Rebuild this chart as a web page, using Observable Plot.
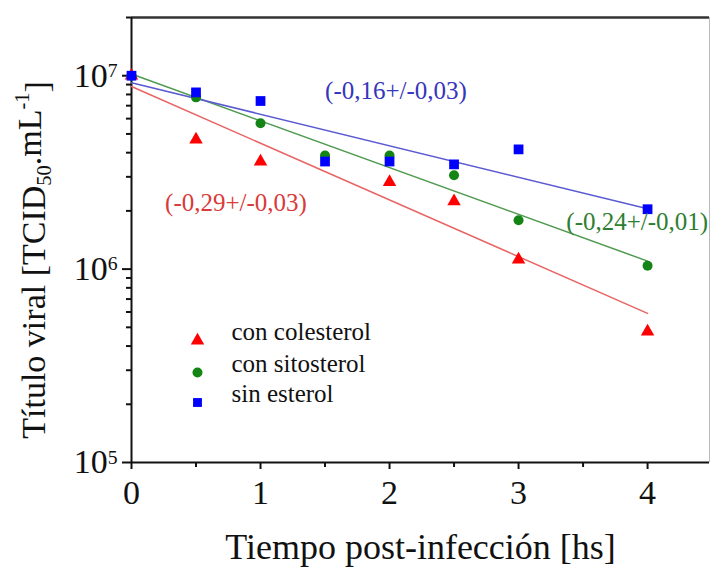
<!DOCTYPE html>
<html>
<head>
<meta charset="utf-8">
<script src="https://cdn.jsdelivr.net/npm/d3@7"></script>
<script src="https://cdn.jsdelivr.net/npm/@observablehq/plot@0.6"></script>
<style>
  html, body { margin: 0; padding: 0; background: white; }
  #chart { width: 710px; height: 568px; }
</style>
</head>
<body>
<div id="chart"></div>
<script>
// ---- data ----
const timeHs = [0, 0.5, 1, 1.5, 2, 2.5, 3, 4];
const conColesterol = [1.0e7, 4.68e6, 3.6e6, null, 2.82e6, 2.24e6, 1.12e6, 4.75e5];
const conColesterolTimes = [0, 0.5, 1, 2, 2.5, 3, 4];
const conSitosterol = [1.0e7, 7.73e6, 5.68e6, 3.87e6, 3.87e6, 3.06e6, 1.79e6, 1.04e6];
const sinEsterol = [1.0e7, 8.2e6, 7.4e6, 3.6e6, 3.6e6, 3.48e6, 4.16e6, 2.04e6];

// fitted lines (endpoints)
const fitTimes = [0, 4];
const fitColesterol = [8.8e6, 5.9e5];
const fitSitosterol = [1.02e7, 1.1e6];
const fitSinEsterol = [9.2e6, 2.05e6];

// slope annotations
const annoText = ["(-0,16+/-0,03)", "(-0,29+/-0,03)", "(-0,24+/-0,01)"];
const annoX = [2.05, 0.81, 3.92];
const annoY = [8.3e6, 2.19e6, 1.75e6];
const annoColor = ["#3535bd", "#d93a3a", "#2e7d32"];

const legendLabels = ["con colesterol", "con sitosterol", "sin esterol"];

const xDomain = [0, 4.48];
const yDomain = [1e5, 2e7];
const xMajor = [0, 1, 2, 3, 4];
const xMinor = [0.5, 1.5, 2.5, 3.5];
const yMajor = [1e5, 1e6, 1e7];
const yMinor = [2e5,3e5,4e5,5e5,6e5,7e5,8e5,9e5,2e6,3e6,4e6,5e6,6e6,7e6,8e6,9e6,2e7];

// ---- build tables ----
const red = conColesterolTimes.map((t) => ({t, v: conColesterol[timeHs.indexOf(t)]}));
const green = timeHs.map((t, i) => ({t, v: conSitosterol[i]}));
const blue = timeHs.map((t, i) => ({t, v: sinEsterol[i]}));
const fitR = fitTimes.map((t, i) => ({t, v: fitColesterol[i]}));
const fitG = fitTimes.map((t, i) => ({t, v: fitSitosterol[i]}));
const fitB = fitTimes.map((t, i) => ({t, v: fitSinEsterol[i]}));
const annos = annoText.map((s, i) => ({s, x: annoX[i], y: annoY[i], c: annoColor[i]}));

const FONT = "Liberation Serif, Times New Roman, serif";
const RED = "#ff0000", GREEN = "#148414", BLUE = "#0000ff";

const legendRow = (i, symbol, fill, r, dy) => [
  Plot.dot([legendLabels[i]], {frameAnchor: "bottom-left", dx: 66, dy, symbol, fill, r, stroke: "none"}),
  Plot.text([legendLabels[i]], {text: d => d, frameAnchor: "bottom-left", dx: 100, dy: dy - 1, textAnchor: "start", fontSize: 25, fill: "#111", fontFamily: FONT})
];

const chart = Plot.plot({
  width: 710,
  height: 568,
  marginLeft: 131,
  marginRight: 1,
  marginTop: 17,
  marginBottom: 106,
  style: {fontFamily: FONT, background: "white", color: "#111"},
  x: {domain: xDomain},
  y: {type: "log", domain: yDomain},
  marks: [
    Plot.ruleX([xDomain[1]], {stroke: "#bbb", strokeWidth: 1}),
    Plot.ruleY([yDomain[1]], {stroke: "#333", strokeWidth: 2.5}),
    Plot.axisX(xMajor, {tickSize: 7, tickPadding: 10, fontSize: 34, stroke: "#111", strokeWidth: 2,
      tickFormat: d => String(d), fontFamily: FONT, label: null}),
    Plot.axisX(xMajor, {tickSize: 0, text: null, fontSize: 36, fontFamily: FONT,
      label: "Tiempo post-infección [hs]", labelAnchor: "center", labelOffset: 96, labelArrow: "none"}),
    Plot.axisX(xMinor, {tickSize: 5, tickFormat: () => "", label: null, stroke: "#111", strokeWidth: 2}),
    Plot.axisY(yMajor, {tickSize: 9, tickPadding: 5, fontSize: 34, stroke: "#111", strokeWidth: 2,
      tickFormat: d => "10^" + Math.round(Math.log10(d)),
      label: "Título viral [TCID_50.mL^-1]", labelAnchor: "center", labelOffset: 111, labelArrow: "none", fontFamily: FONT}),
    Plot.axisY(yMinor, {tickSize: 5, tickFormat: () => "", label: null, stroke: "#111", strokeWidth: 2}),
    Plot.ruleX([xDomain[0]], {stroke: "#111", strokeWidth: 2}),
    Plot.ruleY([yDomain[0]], {stroke: "#111", strokeWidth: 2}),
    Plot.line(fitR, {x: "t", y: "v", stroke: "#e86464", strokeWidth: 1.5}),
    Plot.line(fitG, {x: "t", y: "v", stroke: "#4e9a4e", strokeWidth: 1.5}),
    Plot.line(fitB, {x: "t", y: "v", stroke: "#5a5ad2", strokeWidth: 1.5}),
    Plot.dot(red, {x: "t", y: "v", symbol: "triangle", fill: RED, r: 5, stroke: "none"}),
    Plot.dot(green, {x: "t", y: "v", symbol: "circle", fill: GREEN, r: 5, stroke: "none"}),
    Plot.dot(blue, {x: "t", y: "v", symbol: "square", fill: BLUE, r: 5.5, stroke: "none"}),
    Plot.text(annos, {x: "x", y: "y", text: "s", fill: "c", fontSize: 25, fontFamily: FONT}),
    ...legendRow(0, "triangle", RED, 5, -122),
    ...legendRow(1, "circle", GREEN, 5, -90),
    ...legendRow(2, "square", BLUE, 5, -60)
  ]
});

document.getElementById("chart").appendChild(chart);

// ---- rich text: superscripts / subscripts ----
const svg = d3.select(chart);
svg.selectAll("text").each(function() {
  const el = d3.select(this);
  const target = el.selectAll("tspan").size() ? el.select("tspan") : el;
  const txt = target.text();
  let m = /^10\^(-?\d+)$/.exec(txt);
  if (m) {
    target.text("10");
    target.append("tspan").attr("dy", "-0.5em").attr("font-size", "0.58em").text(m[1]);
    return;
  }
  if (txt.startsWith("Título viral")) {
    el.attr("dx", -20);
    target.text("Título viral [TCID");
    target.append("tspan").attr("dy", "0.3em").attr("font-size", "0.6em").text("50");
    target.append("tspan").attr("dy", "-0.3em").text(".mL");
    target.append("tspan").attr("dy", "-0.55em").attr("font-size", "0.6em").text("-1");
    target.append("tspan").attr("dy", "0.55em").text("]");
  }
});
</script>
</body>
</html>
